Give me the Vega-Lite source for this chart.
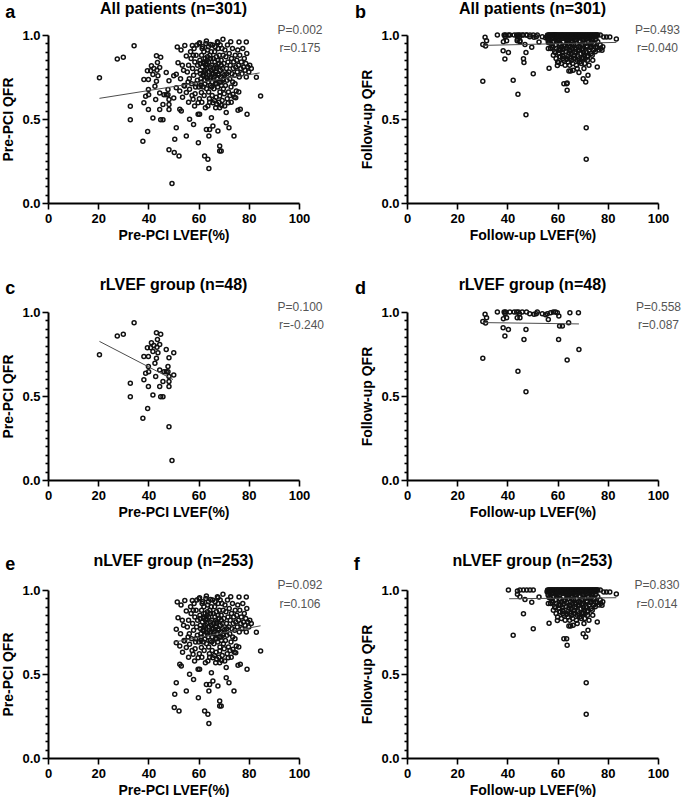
{
  "$schema": "https://vega.github.io/schema/vega-lite/v6.json",
  "background": "white",
  "padding": {"left": 1, "top": 1, "right": 0, "bottom": 0},
  "config": {
    "font": "Liberation Sans",
    "view": {"stroke": null},
    "axis": {"domainColor": "#000", "domainWidth": 2, "tickColor": "#000", "tickWidth": 1.6, "labelColor": "#000", "labelFontSize": 13, "labelFontWeight": "bold", "labelFont": "Liberation Sans", "titleFont": "Liberation Sans", "titleColor": "#000", "titleFontWeight": "bold", "titleFontSize": 14, "grid": false, "labelFlush": false, "labelOverlap": false},
    "axisX": {"tickSize": 6, "labelPadding": 3, "titlePadding": 3},
    "axisY": {"labelPadding": 2, "titlePadding": 6, "tickCount": 20, "tickSize": {"condition": {"test": "datum.value == 0 || datum.value == 0.5 || datum.value == 1", "value": 6}, "value": 3}, "labelExpr": "datum.value == 0 || datum.value == 0.5 || datum.value == 1 ? format(datum.value, '.1f') : ''"},
    "title": {"font": "Liberation Sans", "fontSize": 16, "fontWeight": "bold", "color": "#000", "frame": "group", "anchor": "middle", "offset": -13},
    "point": {"shape": "circle", "filled": false, "size": 16, "strokeWidth": 1.5, "color": "#111", "opacity": 1},
    "line": {"color": "#4d4d4d", "strokeWidth": 1}
  },
  "datasets": {
    "notes": [
      {"p": "a", "L": "a", "P": "P=0.002", "r": "r=0.175"},
      {"p": "b", "L": "b", "P": "P=0.493", "r": "r=0.040"},
      {"p": "c", "L": "c", "P": "P=0.100", "r": "r=-0.240"},
      {"p": "d", "L": "d", "P": "P=0.558", "r": "r=0.087"},
      {"p": "e", "L": "e", "P": "P=0.092", "r": "r=0.106"},
      {"p": "f", "L": "f", "P": "P=0.830", "r": "r=0.014"}
    ],
    "fit": [
      {"p": "a", "x": 20.5, "y": 0.623}, {"p": "a", "x": 84.3, "y": 0.774},
      {"p": "b", "x": 30.2, "y": 0.938}, {"p": "b", "x": 83.4, "y": 0.956},
      {"p": "c", "x": 20.5, "y": 0.825}, {"p": "c", "x": 49.8, "y": 0.598},
      {"p": "d", "x": 30.3, "y": 0.937}, {"p": "d", "x": 68.5, "y": 0.929},
      {"p": "e", "x": 50.3, "y": 0.69}, {"p": "e", "x": 84.7, "y": 0.787},
      {"p": "f", "x": 40.7, "y": 0.948}, {"p": "f", "x": 83.4, "y": 0.954}
    ],
    "preR": [
      {"x":20.5,"y":0.745},{"x":27.6,"y":0.857},{"x":30.0,"y":0.867},{"x":34.3,"y":0.936},{"x":32.8,"y":0.576},{"x":32.8,"y":0.496},{"x":37.8,"y":0.367},{"x":39.7,"y":0.426},{"x":38.2,"y":0.596},{"x":38.2,"y":0.735},{"x":40.0,"y":0.735},{"x":39.6,"y":0.787},{"x":40.9,"y":0.787},{"x":41.2,"y":0.817},{"x":38.9,"y":0.635},{"x":40.0,"y":0.675},{"x":40.1,"y":0.645},{"x":40.0,"y":0.556},{"x":42.2,"y":0.800},{"x":41.8,"y":0.765},{"x":43.2,"y":0.876},{"x":43.6,"y":0.837},{"x":44.9,"y":0.867},{"x":44.5,"y":0.807},{"x":43.4,"y":0.790},{"x":43.2,"y":0.725},{"x":42.6,"y":0.695},{"x":43.8,"y":0.757},{"x":42.9,"y":0.616},{"x":41.8,"y":0.506},{"x":44.5,"y":0.655},{"x":44.5,"y":0.556},{"x":44.9,"y":0.496},{"x":45.8,"y":0.496},{"x":45.8,"y":0.586},{"x":46.2,"y":0.645},{"x":47.1,"y":0.777},{"x":47.8,"y":0.675},{"x":48.2,"y":0.727},{"x":47.8,"y":0.645},{"x":48.2,"y":0.616},{"x":48.2,"y":0.586},{"x":48.2,"y":0.556},{"x":50.1,"y":0.757},{"x":50.1,"y":0.625},{"x":48.2,"y":0.317},{"x":49.4,"y":0.116},{"x":47.1,"y":0.645}
    ],
    "preN": [
      {"x":51.1,"y":0.766},{"x":51.5,"y":0.929},{"x":51.8,"y":0.835},{"x":51.1,"y":0.686},{"x":52.5,"y":0.667},{"x":52.5,"y":0.558},{"x":53.1,"y":0.548},{"x":51.1,"y":0.448},{"x":50.5,"y":0.379},{"x":50.3,"y":0.300},{"x":52.2,"y":0.280},{"x":53.5,"y":0.82},{"x":52.8,"y":0.74},{"x":54.0,"y":0.79},{"x":53.6,"y":0.63},{"x":54.2,"y":0.70},{"x":54.5,"y":0.938},{"x":53.0,"y":0.91},
      {"x":55.1,"y":0.875},{"x":55.1,"y":0.399},{"x":56.4,"y":0.498},{"x":58.0,"y":0.468},{"x":58.4,"y":0.577},{"x":59.8,"y":0.528},{"x":57.8,"y":0.617},{"x":59.8,"y":0.597},{"x":54.4,"y":0.696},{"x":55.1,"y":0.657},{"x":56.4,"y":0.677},{"x":57.5,"y":0.938},{"x":55.5,"y":0.78},{"x":56.0,"y":0.82},{"x":56.3,"y":0.74},{"x":56.8,"y":0.90},{"x":57.0,"y":0.86},{"x":57.2,"y":0.71},{"x":57.6,"y":0.80},{"x":58.0,"y":0.76},{"x":58.2,"y":0.92},{"x":58.5,"y":0.84},{"x":58.8,"y":0.69},{"x":59.0,"y":0.88},{"x":59.2,"y":0.78},{"x":59.5,"y":0.73},{"x":59.6,"y":0.82},{"x":57.4,"y":0.64},{"x":58.6,"y":0.65},{"x":59.9,"y":0.359},{"x":56.0,"y":0.60},{"x":55.8,"y":0.72},{"x":57.9,"y":0.88},{"x":59.3,"y":0.94},{"x":58.9,"y":0.71},
      {"x":60.4,"y":0.528},{"x":60.4,"y":0.954},{"x":60.2,"y":0.948},{"x":62.4,"y":0.280},{"x":63.7,"y":0.260},{"x":64.1,"y":0.206},{"x":63.1,"y":0.438},{"x":64.4,"y":0.438},{"x":64.1,"y":0.399},{"x":62.7,"y":0.567},{"x":63.7,"y":0.577},{"x":61.1,"y":0.657},{"x":63.1,"y":0.964},{"x":64.8,"y":0.944},{"x":60.5,"y":0.85},{"x":60.7,"y":0.79},{"x":60.9,"y":0.74},{"x":61.0,"y":0.70},{"x":61.2,"y":0.88},{"x":61.4,"y":0.92},{"x":61.5,"y":0.81},{"x":61.7,"y":0.76},{"x":61.8,"y":0.69},{"x":62.0,"y":0.84},{"x":62.1,"y":0.90},{"x":62.3,"y":0.78},{"x":62.4,"y":0.73},{"x":62.6,"y":0.86},{"x":62.8,"y":0.82},{"x":62.9,"y":0.95},{"x":63.0,"y":0.75},{"x":63.2,"y":0.68},{"x":63.3,"y":0.80},{"x":63.5,"y":0.87},{"x":63.6,"y":0.91},{"x":63.8,"y":0.72},{"x":64.0,"y":0.84},{"x":64.2,"y":0.78},{"x":64.3,"y":0.62},{"x":64.5,"y":0.88},{"x":64.6,"y":0.70},{"x":64.7,"y":0.81},{"x":64.9,"y":0.75},{"x":60.3,"y":0.62},{"x":61.3,"y":0.60},{"x":62.2,"y":0.64},{"x":60.8,"y":0.77},{"x":61.9,"y":0.83},{"x":63.4,"y":0.85},{"x":62.5,"y":0.71},{"x":64.0,"y":0.66},{"x":60.1,"y":0.69},{"x":61.6,"y":0.93},{"x":62.7,"y":0.79},{"x":63.9,"y":0.93},{"x":64.4,"y":0.60},{"x":60.6,"y":0.83},{"x":61.1,"y":0.72},{"x":63.0,"y":0.83},{"x":64.8,"y":0.86},{"x":62.0,"y":0.76},
      {"x":65.1,"y":0.508},{"x":65.7,"y":0.458},{"x":67.7,"y":0.429},{"x":68.4,"y":0.339},{"x":68.4,"y":0.309},{"x":69.0,"y":0.309},{"x":66.8,"y":0.567},{"x":68.4,"y":0.567},{"x":65.7,"y":0.597},{"x":68.4,"y":0.637},{"x":69.7,"y":0.974},{"x":67.7,"y":0.954},{"x":65.0,"y":0.90},{"x":65.2,"y":0.82},{"x":65.3,"y":0.77},{"x":65.5,"y":0.72},{"x":65.6,"y":0.94},{"x":65.8,"y":0.86},{"x":66.0,"y":0.80},{"x":66.1,"y":0.68},{"x":66.2,"y":0.75},{"x":66.4,"y":0.90},{"x":66.5,"y":0.84},{"x":66.7,"y":0.71},{"x":66.9,"y":0.78},{"x":67.0,"y":0.63},{"x":67.1,"y":0.87},{"x":67.3,"y":0.81},{"x":67.4,"y":0.74},{"x":67.6,"y":0.69},{"x":67.8,"y":0.92},{"x":67.9,"y":0.77},{"x":68.0,"y":0.83},{"x":68.2,"y":0.72},{"x":68.3,"y":0.88},{"x":68.5,"y":0.66},{"x":68.7,"y":0.79},{"x":68.8,"y":0.75},{"x":69.0,"y":0.85},{"x":69.1,"y":0.70},{"x":69.3,"y":0.92},{"x":69.4,"y":0.61},{"x":69.5,"y":0.80},{"x":69.7,"y":0.73},{"x":69.8,"y":0.88},{"x":69.9,"y":0.68},{"x":65.4,"y":0.64},{"x":66.3,"y":0.61},{"x":67.2,"y":0.59},{"x":68.1,"y":0.60},{"x":69.2,"y":0.58},{"x":66.6,"y":0.93},{"x":67.5,"y":0.96},{"x":68.6,"y":0.94},{"x":65.9,"y":0.74},{"x":66.8,"y":0.82},{"x":67.7,"y":0.85},{"x":68.9,"y":0.72},{"x":69.6,"y":0.77},{"x":65.2,"y":0.69},
      {"x":71.0,"y":0.478},{"x":72.1,"y":0.448},{"x":74.1,"y":0.399},{"x":70.4,"y":0.577},{"x":71.8,"y":0.597},{"x":74.8,"y":0.627},{"x":71.0,"y":0.538},{"x":73.7,"y":0.647},{"x":75.0,"y":0.667},{"x":70.1,"y":0.83},{"x":70.3,"y":0.76},{"x":70.5,"y":0.91},{"x":70.7,"y":0.70},{"x":70.9,"y":0.87},{"x":71.1,"y":0.80},{"x":71.3,"y":0.73},{"x":71.5,"y":0.94},{"x":71.7,"y":0.84},{"x":71.9,"y":0.66},{"x":72.0,"y":0.78},{"x":72.2,"y":0.89},{"x":72.4,"y":0.74},{"x":72.6,"y":0.82},{"x":72.8,"y":0.96},{"x":72.9,"y":0.69},{"x":73.1,"y":0.86},{"x":73.3,"y":0.77},{"x":73.5,"y":0.92},{"x":73.6,"y":0.72},{"x":73.8,"y":0.80},{"x":74.0,"y":0.84},{"x":74.2,"y":0.63},{"x":74.4,"y":0.76},{"x":74.6,"y":0.88},{"x":74.8,"y":0.81},{"x":73.0,"y":0.60},{"x":71.4,"y":0.62},{"x":72.5,"y":0.64},{"x":70.2,"y":0.65},{"x":74.5,"y":0.71},
      {"x":75.7,"y":0.552},{"x":76.6,"y":0.558},{"x":79.3,"y":0.528},{"x":84.7,"y":0.637},{"x":83.0,"y":0.748},{"x":79.0,"y":0.750},{"x":76.1,"y":0.958},{"x":79.0,"y":0.958},{"x":75.2,"y":0.85},{"x":75.4,"y":0.78},{"x":75.6,"y":0.91},{"x":75.9,"y":0.82},{"x":76.2,"y":0.75},{"x":76.4,"y":0.88},{"x":76.8,"y":0.80},{"x":77.0,"y":0.84},{"x":77.3,"y":0.77},{"x":77.6,"y":0.92},{"x":77.9,"y":0.81},{"x":78.2,"y":0.86},{"x":78.5,"y":0.79},{"x":78.8,"y":0.83},{"x":79.2,"y":0.89},{"x":79.6,"y":0.81},{"x":80.0,"y":0.78},{"x":80.4,"y":0.82},{"x":81.0,"y":0.80},{"x":76.0,"y":0.66},
      {"x":63.5,"y":0.74},{"x":66.0,"y":0.77},{"x":67.0,"y":0.80},{"x":68.0,"y":0.76},{"x":70.0,"y":0.74},{"x":71.2,"y":0.77},{"x":62.9,"y":0.77},{"x":65.0,"y":0.79},{"x":69.0,"y":0.82},{"x":64.6,"y":0.74},{"x":67.2,"y":0.71}
    ],
    "fuR": [
      {"x":30.2,"y":0.944},{"x":31.3,"y":0.934},{"x":31.1,"y":0.986},{"x":31.7,"y":0.966},{"x":30.2,"y":0.725},{"x":36.0,"y":1.0},{"x":38.4,"y":0.960},{"x":38.3,"y":0.906},{"x":39.0,"y":0.857},{"x":39.3,"y":1.0},{"x":39.1,"y":0.99},{"x":39.7,"y":0.966},{"x":40.4,"y":0.896},{"x":42.7,"y":1.0},{"x":43.7,"y":1.0},{"x":44.4,"y":1.0},{"x":44.8,"y":0.99},{"x":43.9,"y":0.966},{"x":45.0,"y":0.966},{"x":44.2,"y":0.647},{"x":46.6,"y":0.837},{"x":47.4,"y":0.896},{"x":47.4,"y":0.526},{"x":47.6,"y":1.0},{"x":48.9,"y":0.99},{"x":51.5,"y":0.99},{"x":51.9,"y":1.0},{"x":53.9,"y":0.99},{"x":55.9,"y":0.99},{"x":56.3,"y":0.956},{"x":57.2,"y":0.996},{"x":58.3,"y":1.0},{"x":59.2,"y":1.0},{"x":59.9,"y":0.996},{"x":60.5,"y":0.976},{"x":60.4,"y":0.837},{"x":60.8,"y":0.916},{"x":61.9,"y":0.916},{"x":63.8,"y":0.715},{"x":64.4,"y":0.936},{"x":64.9,"y":0.996},{"x":68.3,"y":0.996},{"x":68.5,"y":0.777},{"x":41.0,"y":1.0},{"x":45.9,"y":1.0},{"x":50.6,"y":0.986},{"x":55.2,"y":0.984},{"x":38.7,"y":1.0}
    ],
    "fuN": [
      {"x":40.4,"y":1.0},{"x":42.3,"y":0.730},{"x":44.0,"y":0.994},{"x":45.0,"y":1.0},{"x":46.4,"y":1.0},{"x":47.7,"y":1.0},{"x":49.0,"y":1.0},{"x":50.3,"y":1.0},{"x":44.0,"y":0.974},{"x":45.0,"y":0.960},{"x":47.0,"y":0.944},{"x":46.4,"y":0.859},{"x":49.7,"y":0.927},{"x":50.3,"y":0.770},{"x":52.6,"y":0.958},{"x":56.6,"y":0.802},{"x":56.3,"y":0.919},{"x":59.9,"y":0.819},{"x":58.3,"y":0.879},{"x":59.2,"y":0.895},{"x":60.5,"y":0.909},{"x":60.9,"y":0.871},{"x":62.5,"y":0.710},{"x":63.6,"y":0.710},{"x":63.8,"y":0.671},{"x":64.5,"y":0.786},{"x":65.2,"y":0.786},{"x":66.2,"y":0.790},{"x":67.8,"y":0.800},{"x":70.5,"y":0.800},{"x":70.2,"y":0.740},{"x":71.2,"y":0.720},{"x":72.1,"y":0.760},{"x":75.8,"y":0.810},{"x":71.4,"y":0.448},{"x":71.4,"y":0.260},{"x":66.5,"y":0.861},{"x":68.5,"y":0.859},{"x":70.2,"y":0.865},{"x":71.8,"y":0.875},{"x":73.1,"y":0.925},{"x":74.4,"y":0.909},{"x":75.8,"y":0.925},{"x":77.7,"y":0.909},{"x":78.4,"y":0.988},{"x":79.5,"y":0.988},{"x":80.8,"y":0.988},{"x":83.4,"y":0.976},{"x":57.9,"y":0.925},{"x":63.8,"y":0.855},
      {"x":56.0,"y":1.0},{"x":56.5,"y":1.0},{"x":57.0,"y":1.0},{"x":57.5,"y":1.0},{"x":58.0,"y":1.0},{"x":58.5,"y":1.0},{"x":59.0,"y":1.0},{"x":59.5,"y":1.0},{"x":60.0,"y":1.0},{"x":60.5,"y":1.0},{"x":61.0,"y":1.0},{"x":61.5,"y":1.0},{"x":62.0,"y":1.0},{"x":62.5,"y":1.0},{"x":63.0,"y":1.0},{"x":63.5,"y":1.0},{"x":64.0,"y":1.0},{"x":64.5,"y":1.0},{"x":65.0,"y":1.0},{"x":65.5,"y":1.0},{"x":66.0,"y":1.0},{"x":66.5,"y":1.0},{"x":67.0,"y":1.0},{"x":67.5,"y":1.0},{"x":68.0,"y":1.0},{"x":68.5,"y":1.0},{"x":69.0,"y":1.0},{"x":69.5,"y":1.0},{"x":70.0,"y":1.0},{"x":70.5,"y":1.0},{"x":71.0,"y":1.0},{"x":71.5,"y":1.0},{"x":72.0,"y":1.0},{"x":72.5,"y":1.0},{"x":73.0,"y":1.0},{"x":73.5,"y":1.0},{"x":74.0,"y":1.0},{"x":74.5,"y":1.0},{"x":75.0,"y":1.0},{"x":75.5,"y":1.0},{"x":76.0,"y":1.0},{"x":77.0,"y":1.0},
      {"x":57.0,"y":0.99},{"x":59.0,"y":0.99},{"x":61.0,"y":0.99},{"x":63.0,"y":0.99},{"x":65.0,"y":0.99},{"x":67.0,"y":0.99},{"x":69.0,"y":0.99},{"x":71.0,"y":0.99},{"x":73.0,"y":0.99},{"x":75.0,"y":0.99},
      {"x":58.0,"y":0.98},{"x":60.0,"y":0.98},{"x":62.0,"y":0.98},{"x":64.0,"y":0.98},{"x":66.0,"y":0.98},{"x":68.0,"y":0.98},{"x":70.0,"y":0.98},{"x":72.0,"y":0.98},{"x":74.0,"y":0.98},
      {"x":56.2,"y":0.97},{"x":57.3,"y":0.95},{"x":58.4,"y":0.96},{"x":59.1,"y":0.94},{"x":60.2,"y":0.97},{"x":60.9,"y":0.95},{"x":61.6,"y":0.93},{"x":62.3,"y":0.96},{"x":63.0,"y":0.94},{"x":63.8,"y":0.97},{"x":64.4,"y":0.95},{"x":65.1,"y":0.93},{"x":65.8,"y":0.96},{"x":66.4,"y":0.94},{"x":67.1,"y":0.97},{"x":67.7,"y":0.95},{"x":68.3,"y":0.93},{"x":68.9,"y":0.96},{"x":69.6,"y":0.94},{"x":70.3,"y":0.97},{"x":70.9,"y":0.95},{"x":71.6,"y":0.93},{"x":72.3,"y":0.96},{"x":73.0,"y":0.94},{"x":73.7,"y":0.97},{"x":74.4,"y":0.95},{"x":75.1,"y":0.93},{"x":76.0,"y":0.96},{"x":77.0,"y":0.94},{"x":78.0,"y":0.93},
      {"x":58.8,"y":0.90},{"x":59.6,"y":0.92},{"x":60.4,"y":0.89},{"x":61.2,"y":0.91},{"x":61.9,"y":0.88},{"x":62.6,"y":0.92},{"x":63.3,"y":0.90},{"x":64.0,"y":0.87},{"x":64.7,"y":0.91},{"x":65.4,"y":0.89},{"x":66.0,"y":0.92},{"x":66.7,"y":0.88},{"x":67.3,"y":0.90},{"x":68.0,"y":0.87},{"x":68.7,"y":0.91},{"x":69.3,"y":0.89},{"x":70.0,"y":0.92},{"x":70.6,"y":0.88},{"x":71.3,"y":0.90},{"x":72.0,"y":0.87},{"x":72.7,"y":0.91},{"x":73.4,"y":0.89},{"x":74.1,"y":0.91},{"x":62.0,"y":0.86},{"x":65.0,"y":0.86},{"x":67.9,"y":0.85},{"x":69.8,"y":0.86},{"x":71.0,"y":0.86},{"x":73.8,"y":0.88},{"x":75.0,"y":0.90},
      {"x":60.0,"y":0.84},{"x":61.5,"y":0.83},{"x":63.0,"y":0.82},{"x":64.2,"y":0.84},{"x":66.0,"y":0.83},{"x":67.5,"y":0.82},{"x":68.8,"y":0.84},{"x":70.8,"y":0.83},{"x":72.5,"y":0.82},{"x":61.0,"y":0.87},{"x":63.5,"y":0.86},{"x":66.8,"y":0.86},
      {"x":56.8,"y":1.0},{"x":57.8,"y":1.0},{"x":58.8,"y":1.0},{"x":59.8,"y":1.0},{"x":60.8,"y":1.0},{"x":61.8,"y":1.0},{"x":62.8,"y":1.0},{"x":63.8,"y":1.0},{"x":64.8,"y":1.0},{"x":65.8,"y":1.0},{"x":66.8,"y":1.0},{"x":67.8,"y":1.0},{"x":68.8,"y":1.0},{"x":69.8,"y":1.0},{"x":70.8,"y":1.0},{"x":71.8,"y":1.0},{"x":72.8,"y":1.0},{"x":73.8,"y":1.0},{"x":74.8,"y":1.0},{"x":75.8,"y":1.0},
      {"x":57.5,"y":0.985},{"x":59.3,"y":0.975},{"x":61.3,"y":0.985},{"x":63.3,"y":0.975},{"x":65.3,"y":0.985},{"x":67.3,"y":0.975},{"x":69.3,"y":0.985},{"x":71.3,"y":0.975},{"x":73.3,"y":0.985},{"x":75.3,"y":0.975},
      {"x":56.6,"y":0.955},{"x":58.0,"y":0.935},{"x":59.5,"y":0.965},{"x":61.0,"y":0.945},{"x":62.6,"y":0.935},{"x":64.1,"y":0.965},{"x":65.6,"y":0.945},{"x":67.0,"y":0.925},{"x":68.6,"y":0.965},{"x":70.1,"y":0.945},{"x":71.8,"y":0.935},{"x":73.3,"y":0.955},{"x":74.8,"y":0.945},{"x":66.2,"y":0.975},{"x":69.0,"y":0.925},
      {"x":60.6,"y":0.915},{"x":62.1,"y":0.895},{"x":63.6,"y":0.925},{"x":65.1,"y":0.905},{"x":66.4,"y":0.875},{"x":68.2,"y":0.905},{"x":69.6,"y":0.915},{"x":71.6,"y":0.895},{"x":73.0,"y":0.925},{"x":64.5,"y":0.895},{"x":67.0,"y":0.915},{"x":70.4,"y":0.895},
      {"x":62.4,"y":0.85},{"x":64.8,"y":0.82},{"x":65.6,"y":0.85},{"x":69.4,"y":0.83},{"x":71.9,"y":0.85},{"x":59.4,"y":0.86},{"x":74.0,"y":0.85},{"x":76.5,"y":0.91},{"x":77.2,"y":0.92},{"x":57.2,"y":0.92},{"x":55.8,"y":0.99},{"x":56.3,"y":0.99},{"x":56.9,"y":0.98}
    ]
  },
  "columns": 2,
  "spacing": {"row": 34, "column": 28},
  "concat": [
    {
      "width": 251, "height": 168,
      "title": {"text": "All patients (n=301)"},
      "layer": [
        {
          "encoding": {
            "x": {"field": "x", "type": "quantitative", "title": "Pre-PCI LVEF(%)", "scale": {"domain": [0, 100]}, "axis": {"values": [0, 20, 40, 60, 80, 100]}},
            "y": {"field": "y", "type": "quantitative", "title": "Pre-PCI QFR", "scale": {"domain": [0, 1]}}
          },
          "layer": [
            {"data": {"name": "preR"}, "mark": "point"},
            {"data": {"name": "preN"}, "mark": "point"},
            {"data": {"name": "fit"}, "transform": [{"filter": "datum.p === 'a'"}], "mark": "line", "encoding": {}}
          ]
        },
        {"data": {"name": "notes"}, "transform": [{"filter": "datum.p === 'a'"}], "mark": {"type": "text", "fontSize": 12, "color": "#555", "align": "center", "baseline": "middle"}, "encoding": {"x": {"datum": 100.4}, "y": {"datum": 1.03}, "text": {"field": "P"}}},
        {"data": {"name": "notes"}, "transform": [{"filter": "datum.p === 'a'"}], "mark": {"type": "text", "fontSize": 12, "color": "#555", "align": "center", "baseline": "middle"}, "encoding": {"x": {"datum": 100.4}, "y": {"datum": 0.922}, "text": {"field": "r"}}},
        {"data": {"name": "notes"}, "transform": [{"filter": "datum.p === 'a'"}], "mark": {"type": "text", "fontSize": 18, "fontWeight": "bold", "color": "#000", "align": "center", "baseline": "alphabetic"}, "encoding": {"x": {"datum": -15}, "y": {"datum": 1.1}, "text": {"field": "L"}}}
      ]
    },
    {
      "width": 251, "height": 168,
      "title": {"text": "All patients (n=301)"},
      "layer": [
        {
          "encoding": {
            "x": {"field": "x", "type": "quantitative", "title": "Follow-up LVEF(%)", "scale": {"domain": [0, 100]}, "axis": {"values": [0, 20, 40, 60, 80, 100]}},
            "y": {"field": "y", "type": "quantitative", "title": "Follow-up QFR", "scale": {"domain": [0, 1]}}
          },
          "layer": [
            {"data": {"name": "fuR"}, "mark": "point"},
            {"data": {"name": "fuN"}, "mark": "point"},
            {"data": {"name": "fit"}, "transform": [{"filter": "datum.p === 'b'"}], "mark": "line", "encoding": {}}
          ]
        },
        {"data": {"name": "notes"}, "transform": [{"filter": "datum.p === 'b'"}], "mark": {"type": "text", "fontSize": 12, "color": "#555", "align": "center", "baseline": "middle"}, "encoding": {"x": {"datum": 99.8}, "y": {"datum": 1.03}, "text": {"field": "P"}}},
        {"data": {"name": "notes"}, "transform": [{"filter": "datum.p === 'b'"}], "mark": {"type": "text", "fontSize": 12, "color": "#555", "align": "center", "baseline": "middle"}, "encoding": {"x": {"datum": 99.8}, "y": {"datum": 0.922}, "text": {"field": "r"}}},
        {"data": {"name": "notes"}, "transform": [{"filter": "datum.p === 'b'"}], "mark": {"type": "text", "fontSize": 18, "fontWeight": "bold", "color": "#000", "align": "center", "baseline": "alphabetic"}, "encoding": {"x": {"datum": -18.5}, "y": {"datum": 1.1}, "text": {"field": "L"}}}
      ]
    },
    {
      "width": 251, "height": 168,
      "title": {"text": "rLVEF group (n=48)"},
      "layer": [
        {
          "encoding": {
            "x": {"field": "x", "type": "quantitative", "title": "Pre-PCI LVEF(%)", "scale": {"domain": [0, 100]}, "axis": {"values": [0, 20, 40, 60, 80, 100]}},
            "y": {"field": "y", "type": "quantitative", "title": "Pre-PCI QFR", "scale": {"domain": [0, 1]}}
          },
          "layer": [
            {"data": {"name": "preR"}, "mark": "point"},
            {"data": {"name": "fit"}, "transform": [{"filter": "datum.p === 'c'"}], "mark": "line", "encoding": {}}
          ]
        },
        {"data": {"name": "notes"}, "transform": [{"filter": "datum.p === 'c'"}], "mark": {"type": "text", "fontSize": 12, "color": "#555", "align": "center", "baseline": "middle"}, "encoding": {"x": {"datum": 100.4}, "y": {"datum": 1.03}, "text": {"field": "P"}}},
        {"data": {"name": "notes"}, "transform": [{"filter": "datum.p === 'c'"}], "mark": {"type": "text", "fontSize": 12, "color": "#555", "align": "center", "baseline": "middle"}, "encoding": {"x": {"datum": 101}, "y": {"datum": 0.92}, "text": {"field": "r"}}},
        {"data": {"name": "notes"}, "transform": [{"filter": "datum.p === 'c'"}], "mark": {"type": "text", "fontSize": 18, "fontWeight": "bold", "color": "#000", "align": "center", "baseline": "alphabetic"}, "encoding": {"x": {"datum": -15}, "y": {"datum": 1.11}, "text": {"field": "L"}}}
      ]
    },
    {
      "width": 251, "height": 168,
      "title": {"text": "rLVEF group (n=48)"},
      "layer": [
        {
          "encoding": {
            "x": {"field": "x", "type": "quantitative", "title": "Follow-up LVEF(%)", "scale": {"domain": [0, 100]}, "axis": {"values": [0, 20, 40, 60, 80, 100]}},
            "y": {"field": "y", "type": "quantitative", "title": "Follow-up QFR", "scale": {"domain": [0, 1]}}
          },
          "layer": [
            {"data": {"name": "fuR"}, "mark": "point"},
            {"data": {"name": "fit"}, "transform": [{"filter": "datum.p === 'd'"}], "mark": "line", "encoding": {}}
          ]
        },
        {"data": {"name": "notes"}, "transform": [{"filter": "datum.p === 'd'"}], "mark": {"type": "text", "fontSize": 12, "color": "#555", "align": "center", "baseline": "middle"}, "encoding": {"x": {"datum": 100.2}, "y": {"datum": 1.03}, "text": {"field": "P"}}},
        {"data": {"name": "notes"}, "transform": [{"filter": "datum.p === 'd'"}], "mark": {"type": "text", "fontSize": 12, "color": "#555", "align": "center", "baseline": "middle"}, "encoding": {"x": {"datum": 100.2}, "y": {"datum": 0.92}, "text": {"field": "r"}}},
        {"data": {"name": "notes"}, "transform": [{"filter": "datum.p === 'd'"}], "mark": {"type": "text", "fontSize": 18, "fontWeight": "bold", "color": "#000", "align": "center", "baseline": "alphabetic"}, "encoding": {"x": {"datum": -18.5}, "y": {"datum": 1.11}, "text": {"field": "L"}}}
      ]
    },
    {
      "width": 251, "height": 168,
      "title": {"text": "nLVEF group (n=253)"},
      "layer": [
        {
          "encoding": {
            "x": {"field": "x", "type": "quantitative", "title": "Pre-PCI LVEF(%)", "scale": {"domain": [0, 100]}, "axis": {"values": [0, 20, 40, 60, 80, 100]}},
            "y": {"field": "y", "type": "quantitative", "title": "Pre-PCI QFR", "scale": {"domain": [0, 1]}}
          },
          "layer": [
            {"data": {"name": "preN"}, "mark": "point"},
            {"data": {"name": "fit"}, "transform": [{"filter": "datum.p === 'e'"}], "mark": "line", "encoding": {}}
          ]
        },
        {"data": {"name": "notes"}, "transform": [{"filter": "datum.p === 'e'"}], "mark": {"type": "text", "fontSize": 12, "color": "#555", "align": "center", "baseline": "middle"}, "encoding": {"x": {"datum": 100.4}, "y": {"datum": 1.03}, "text": {"field": "P"}}},
        {"data": {"name": "notes"}, "transform": [{"filter": "datum.p === 'e'"}], "mark": {"type": "text", "fontSize": 12, "color": "#555", "align": "center", "baseline": "middle"}, "encoding": {"x": {"datum": 100.4}, "y": {"datum": 0.918}, "text": {"field": "r"}}},
        {"data": {"name": "notes"}, "transform": [{"filter": "datum.p === 'e'"}], "mark": {"type": "text", "fontSize": 18, "fontWeight": "bold", "color": "#000", "align": "center", "baseline": "alphabetic"}, "encoding": {"x": {"datum": -15}, "y": {"datum": 1.117}, "text": {"field": "L"}}}
      ]
    },
    {
      "width": 251, "height": 168,
      "title": {"text": "nLVEF group (n=253)"},
      "layer": [
        {
          "encoding": {
            "x": {"field": "x", "type": "quantitative", "title": "Follow-up LVEF(%)", "scale": {"domain": [0, 100]}, "axis": {"values": [0, 20, 40, 60, 80, 100]}},
            "y": {"field": "y", "type": "quantitative", "title": "Follow-up QFR", "scale": {"domain": [0, 1]}}
          },
          "layer": [
            {"data": {"name": "fuN"}, "mark": "point"},
            {"data": {"name": "fit"}, "transform": [{"filter": "datum.p === 'f'"}], "mark": "line", "encoding": {}}
          ]
        },
        {"data": {"name": "notes"}, "transform": [{"filter": "datum.p === 'f'"}], "mark": {"type": "text", "fontSize": 12, "color": "#555", "align": "center", "baseline": "middle"}, "encoding": {"x": {"datum": 99.6}, "y": {"datum": 1.03}, "text": {"field": "P"}}},
        {"data": {"name": "notes"}, "transform": [{"filter": "datum.p === 'f'"}], "mark": {"type": "text", "fontSize": 12, "color": "#555", "align": "center", "baseline": "middle"}, "encoding": {"x": {"datum": 99.6}, "y": {"datum": 0.918}, "text": {"field": "r"}}},
        {"data": {"name": "notes"}, "transform": [{"filter": "datum.p === 'f'"}], "mark": {"type": "text", "fontSize": 18, "fontWeight": "bold", "color": "#000", "align": "center", "baseline": "alphabetic"}, "encoding": {"x": {"datum": -20}, "y": {"datum": 1.117}, "text": {"field": "L"}}}
      ]
    }
  ]
}
